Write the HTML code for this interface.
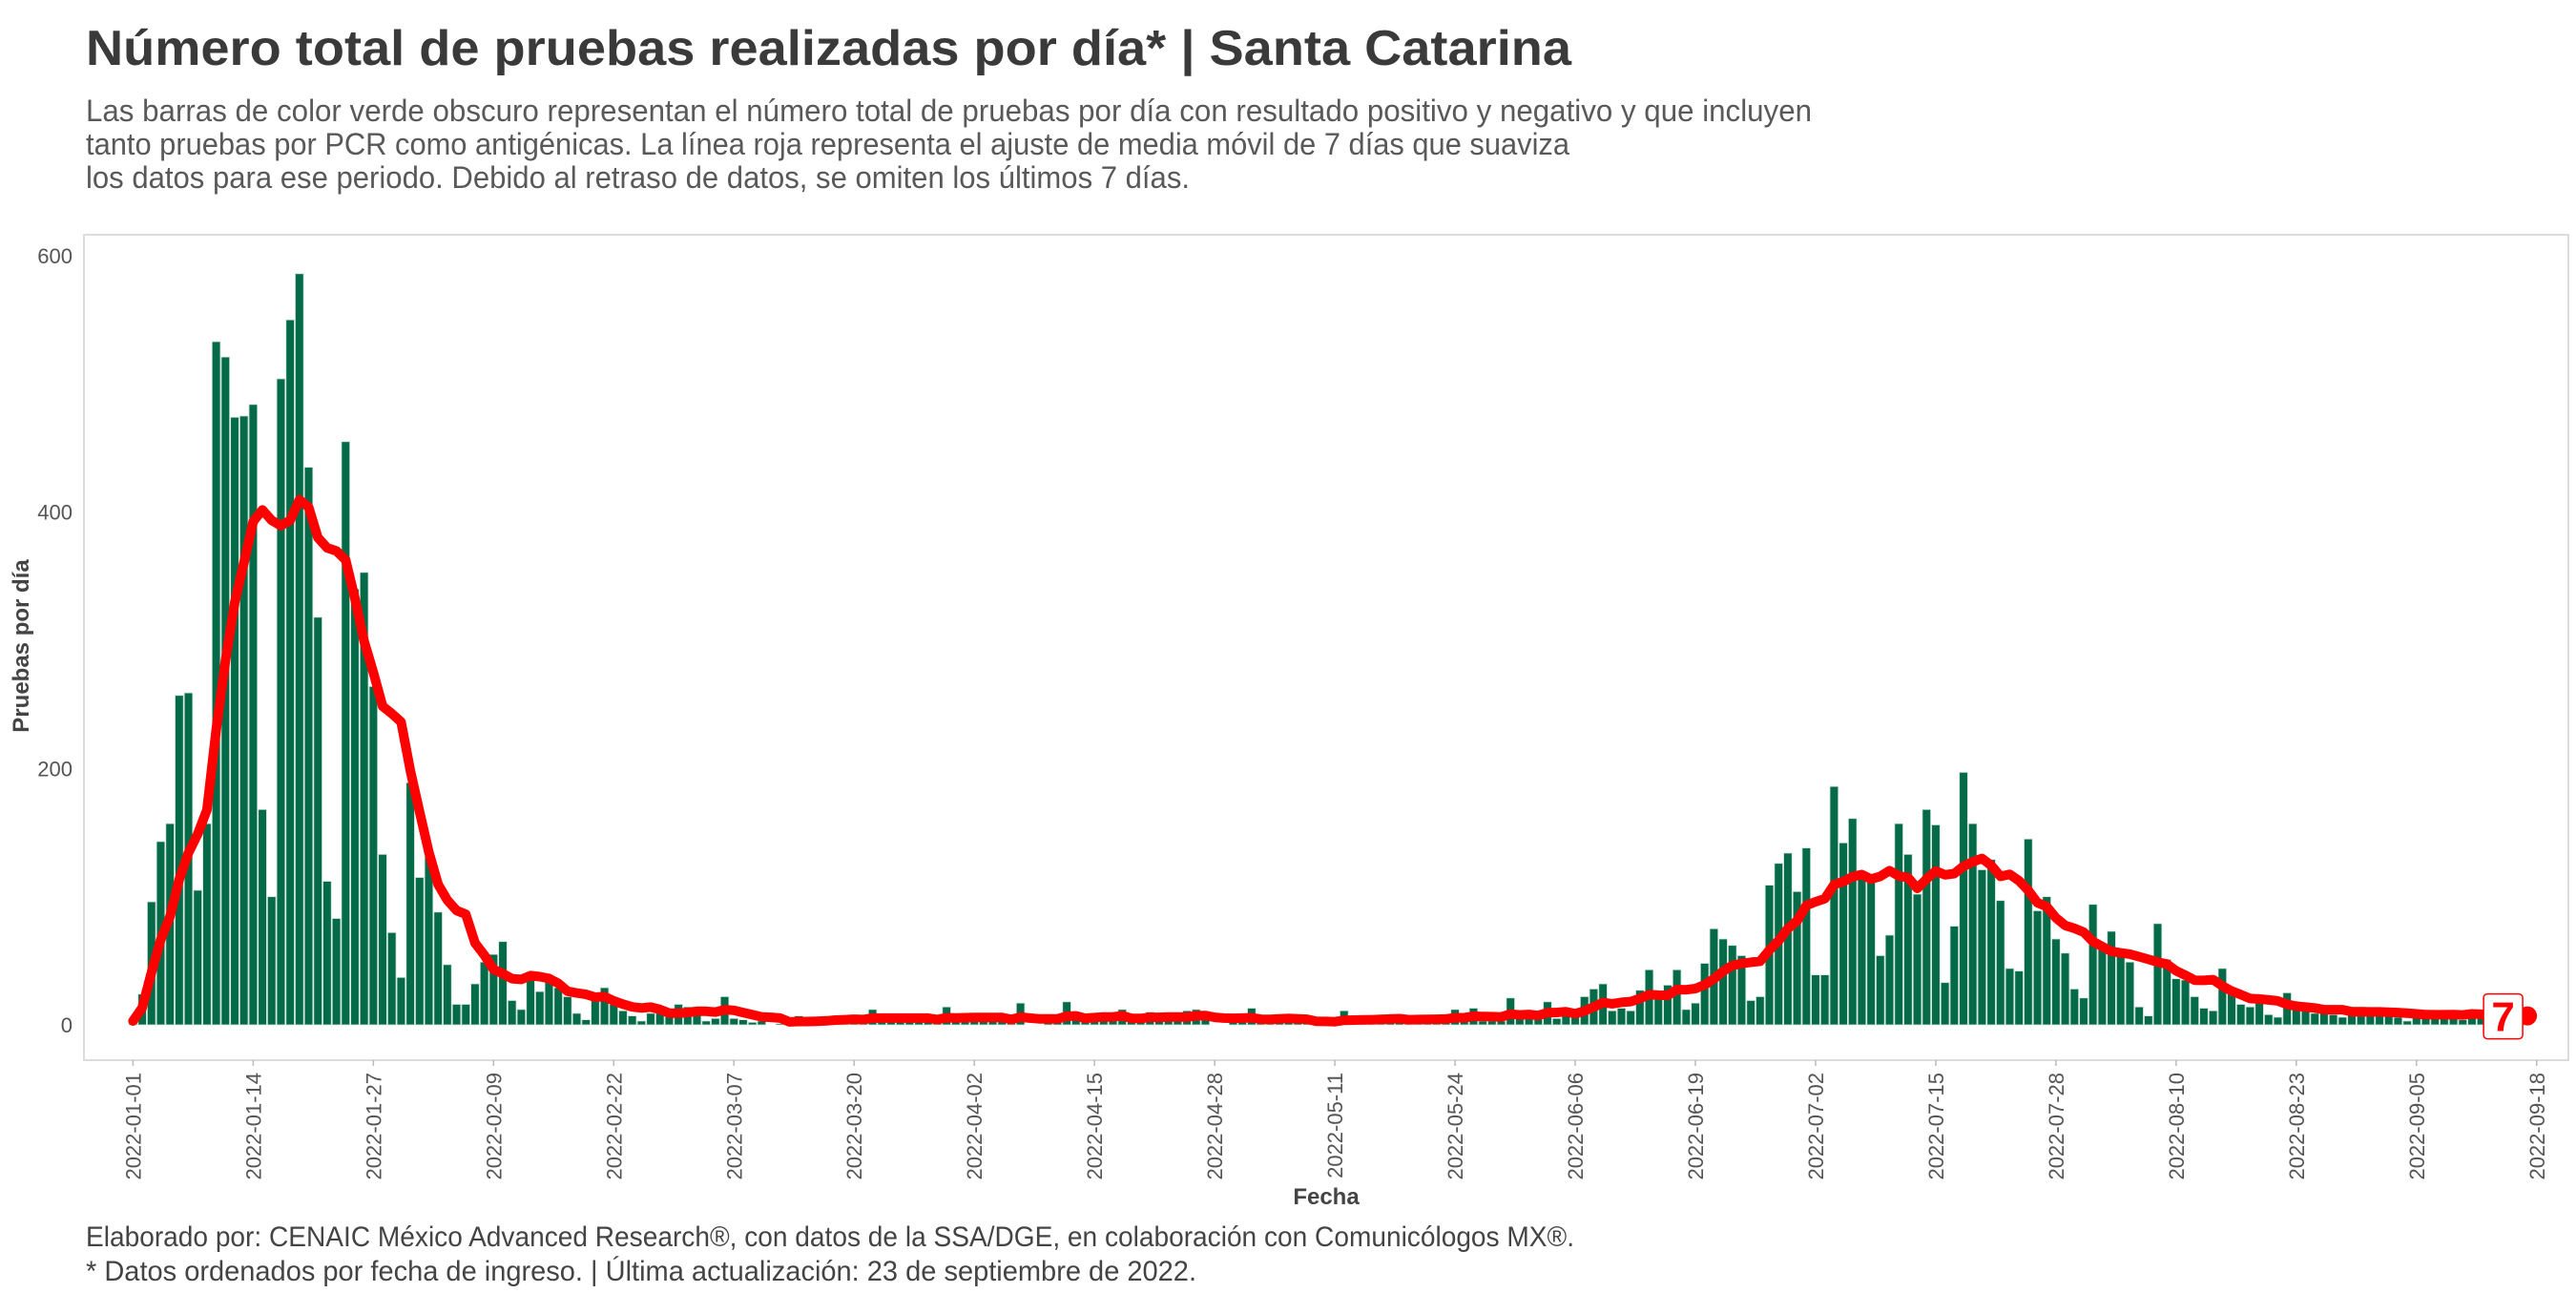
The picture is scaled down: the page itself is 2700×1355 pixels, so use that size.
<!DOCTYPE html>
<html lang="es">
<head>
<meta charset="utf-8">
<style>
  html,body{margin:0;padding:0;background:#fff;}
  body{width:2700px;height:1350px;overflow:hidden;font-family:"Liberation Sans",sans-serif;}
  svg text{font-family:"Liberation Sans",sans-serif;}
</style>
</head>
<body>
<svg id="chart" width="2700" height="1350" viewBox="0 0 2700 1350" xmlns="http://www.w3.org/2000/svg">
  <rect x="0" y="0" width="2700" height="1350" fill="#fff"/>
  <text x="90" y="68" font-size="52" font-weight="bold" fill="#3a3a3a" textLength="1557" lengthAdjust="spacingAndGlyphs">Número total de pruebas realizadas por día* | Santa Catarina</text>
  <g fill="#595959" font-size="32">
    <text x="90" y="127" textLength="1809" lengthAdjust="spacingAndGlyphs">Las barras de color verde obscuro representan el número total de pruebas por día con resultado positivo y negativo y que incluyen</text>
    <text x="90" y="162" textLength="1555" lengthAdjust="spacingAndGlyphs">tanto pruebas por PCR como antigénicas. La línea roja representa el ajuste de media móvil de 7 días que suaviza</text>
    <text x="90" y="197" textLength="1157" lengthAdjust="spacingAndGlyphs">los datos para ese periodo. Debido al retraso de datos, se omiten los últimos 7 días.</text>
  </g>
  <rect x="88" y="246" width="2604" height="865" fill="none" stroke="#dcdcdc" stroke-width="2"/>
  <g id="yaxis"></g>
  <text transform="translate(30,677) rotate(-90)" text-anchor="middle" font-size="24" font-weight="bold" fill="#444">Pruebas por día</text>
  <g id="bars"></g>
  <path id="ma" fill="none" stroke="#ff0000" stroke-width="10" stroke-linejoin="round" stroke-linecap="round"/>
  <g id="xaxis"></g>
  <text x="1390" y="1262" text-anchor="middle" font-size="24" font-weight="bold" fill="#444">Fecha</text>
  <g id="endlabel"></g>
  <g fill="#444" font-size="30">
    <text x="90" y="1306" textLength="1560" lengthAdjust="spacingAndGlyphs">Elaborado por: CENAIC México Advanced Research®, con datos de la SSA/DGE, en colaboración con Comunicólogos MX®.</text>
    <text x="90" y="1342" textLength="1164" lengthAdjust="spacingAndGlyphs">* Datos ordenados por fecha de ingreso. | Última actualización: 23 de septiembre de 2022.</text>
  </g>
</svg>
<script>
// Daily tests starting 2022-01-01 (index 0)
const dailyTests = [
3,24,96,143,157,257,259,105,157,533,521,474,475,484,168,100,504,550,586,435,
318,112,83,455,340,353,264,133,72,37,189,115,133,88,47,16,16,32,49,55,
65,19,12,37,26,39,29,22,9,4,22,29,16,11,7,3,9,9,9,16,
14,14,3,5,22,5,4,2,3,0,1,1,7,4,4,5,4,3,4,5,
12,4,5,4,3,4,5,4,14,4,5,4,4,5,4,3,17,0,0,4,
5,18,5,4,4,3,4,12,4,4,10,4,5,4,11,12,5,0,0,4,
5,13,4,4,3,2,2,3,2,3,2,11,3,3,4,4,5,4,5,4,
4,5,5,12,4,13,3,3,3,21,7,7,7,18,5,7,10,22,28,32,
11,13,11,27,43,25,31,43,12,17,48,75,67,62,54,19,22,109,126,134,
104,138,39,39,186,142,161,116,113,54,70,157,133,102,168,156,33,77,197,157,
121,129,97,44,42,145,89,100,67,56,28,21,94,62,73,59,49,14,7,79,
51,36,35,22,13,11,44,24,16,14,19,8,6,25,14,11,9,10,8,6,
14,14,10,9,8,6,3,10,10,9,9,9,4,9,8,7,6,7,6,6
];
const yTicks = [0, 200, 400, 600];
const xTickLabels = ["2022-01-01","2022-01-14","2022-01-27","2022-02-09","2022-02-22","2022-03-07","2022-03-20","2022-04-02","2022-04-15","2022-04-28","2022-05-11","2022-05-24","2022-06-06","2022-06-19","2022-07-02","2022-07-15","2022-07-28","2022-08-10","2022-08-23","2022-09-05","2022-09-18"];
const xTickDays = [0,13,26,39,52,65,78,91,104,117,130,143,156,169,182,195,208,221,234,247,260];

const NS = "http://www.w3.org/2000/svg";
const X0 = 139.4, DX = 9.69, Y0 = 1074, YS = 1.3433;
function xScale(d){ return X0 + d*DX; }
function yScale(v){ return Y0 - v*YS; }
function mk(tag, attrs, parent){
  const e = document.createElementNS(NS, tag);
  for (const k in attrs) e.setAttribute(k, attrs[k]);
  parent.appendChild(e);
  return e;
}

// y axis
const ya = document.getElementById('yaxis');
yTicks.forEach(t => {
  const tx = mk('text', {x: 76, y: yScale(t)+8, 'text-anchor':'end', 'font-size':22, fill:'#555'}, ya);
  
  
  tx.textContent = t;
});

// bars
const bg = document.getElementById('bars');
dailyTests.forEach((v, i) => {
  const h = Math.max(0, v*YS);
  const r = mk('rect', {x: xScale(i)-DX/2+0.5, y: Y0-h, width: DX-1, height: h, fill:'#046a48', stroke:'#cfe3d9', 'stroke-width':0.8}, bg);
  
  
});

// 7-day trailing moving average
const ma = dailyTests.map((v, i) => {
  const s = Math.max(0, i-6);
  const w = dailyTests.slice(s, i+1);
  return w.reduce((a,b)=>a+b,0)/w.length;
});
let d = '';
ma.forEach((v, i) => { d += (i ? 'L' : 'M') + xScale(i).toFixed(1) + ',' + yScale(v).toFixed(1); });
document.getElementById('ma').setAttribute('d', d);

// x axis
const xa = document.getElementById('xaxis');
xTickLabels.forEach((lab, i) => {
  const x = xScale(xTickDays[i]);
  const tk = mk('line', {x1:x, x2:x, y1:1111, y2:1117, stroke:'#bbb', 'stroke-width':1.5}, xa);
  
  
  const t = mk('text', {transform:`translate(${x+8},1124) rotate(-90)`, 'text-anchor':'end', 'font-size':22, fill:'#555'}, xa);
  
  
  t.textContent = lab;
});

// end label
const el = document.getElementById('endlabel');
const li = ma.length - 1;
const lx = xScale(li), lyv = yScale(ma[li]);
const dot = mk('circle', {cx: lx, cy: lyv, r: 10, fill:'#ff0000'}, el);


const box = mk('rect', {x: lx-46, y: lyv-23, width: 41, height: 47, rx: 4, fill:'#fff', stroke:'#ff0000', 'stroke-width':1.5}, el);


const lt = mk('text', {x: lx-25.5, y: lyv+16, 'text-anchor':'middle', 'font-size':44, 'font-weight':'bold', fill:'#ff0000'}, el);


lt.textContent = Math.round(ma[li]);
</script>
</body>
</html>
